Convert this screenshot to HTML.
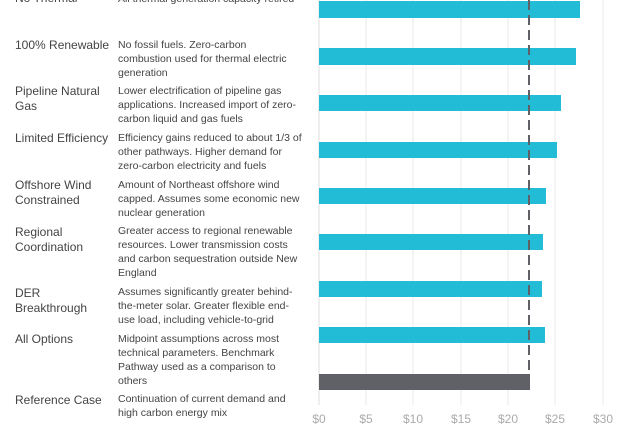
<!DOCTYPE html>
<html><head><meta charset="utf-8"><style>
body{margin:0;width:624px;height:433px;overflow:hidden;background:#fff;font-family:"Liberation Sans",Arial,sans-serif;position:relative}
.l{position:absolute;left:15px;font-size:12px;line-height:15px;color:#444;width:100px}
.d{position:absolute;left:118px;font-size:10.5px;line-height:14px;color:#444;width:187px}
svg{position:absolute;left:0;top:0}
</style></head><body>
<div class="l" style="top:-9px">No Thermal</div>
<div class="d" style="top:-8px;width:220px">All thermal generation capacity retired</div>
<div class="l" style="top:38px">100% Renewable</div>
<div class="d" style="top:38px;width:174px">No fossil fuels. Zero-carbon combustion used for thermal electric generation</div>
<div class="l" style="top:84px">Pipeline Natural Gas</div>
<div class="d" style="top:84px">Lower electrification of pipeline gas applications. Increased import of zero-carbon liquid and gas fuels</div>
<div class="l" style="top:131px">Limited Efficiency</div>
<div class="d" style="top:131px">Efficiency gains reduced to about 1/3 of other pathways. Higher demand for zero-carbon electricity and fuels</div>
<div class="l" style="top:178px">Offshore Wind Constrained</div>
<div class="d" style="top:178px">Amount of Northeast offshore wind capped. Assumes some economic new nuclear generation</div>
<div class="l" style="top:225px">Regional Coordination</div>
<div class="d" style="top:224px">Greater access to regional renewable resources. Lower transmission costs and carbon sequestration outside New England</div>
<div class="l" style="top:286px">DER Breakthrough</div>
<div class="d" style="top:285px">Assumes significantly greater behind-the-meter solar. Greater flexible end-use load, including vehicle-to-grid</div>
<div class="l" style="top:332px">All Options</div>
<div class="d" style="top:332px">Midpoint assumptions across most technical parameters. Benchmark Pathway used as a comparison to others</div>
<div class="l" style="top:393px">Reference Case</div>
<div class="d" style="top:392px">Continuation of current demand and high carbon energy mix</div>
<svg width="624" height="433">
<g stroke="#e8e8e8" stroke-width="1">
<line x1="366" y1="0" x2="366" y2="405"/><line x1="413" y1="0" x2="413" y2="405"/><line x1="461" y1="0" x2="461" y2="405"/><line x1="508" y1="0" x2="508" y2="405"/><line x1="555" y1="0" x2="555" y2="405"/><line x1="603" y1="0" x2="603" y2="405"/>
</g>
<line x1="319" y1="0" x2="319" y2="405" stroke="#ddd"/>
<g fill="#23bcd6">
<rect x="319" y="1" width="261" height="17"/>
<rect x="319" y="48" width="257" height="17"/>
<rect x="319" y="95" width="242" height="16"/>
<rect x="319" y="142" width="238" height="16"/>
<rect x="319" y="188" width="227" height="16"/>
<rect x="319" y="234" width="224" height="16"/>
<rect x="319" y="281" width="223" height="16"/>
<rect x="319" y="327" width="226" height="16"/>
</g>
<rect x="319" y="374" width="211" height="16" fill="#5f6166"/>
<line x1="529" y1="0" x2="529" y2="374" stroke="#5f6166" stroke-width="2" stroke-dasharray="10,5"/>
<g font-size="12" fill="#aaa" text-anchor="middle" font-family="Liberation Sans,Arial,sans-serif">
<text x="319" y="423">$0</text><text x="366" y="423">$5</text><text x="413" y="423">$10</text><text x="461" y="423">$15</text><text x="508" y="423">$20</text><text x="555" y="423">$25</text><text x="603" y="423">$30</text>
</g>
</svg>
</body></html>
